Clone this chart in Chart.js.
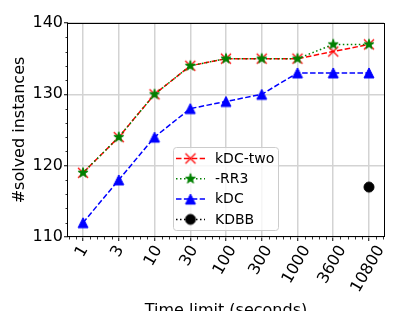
<!DOCTYPE html>
<html lang="en">
<head>
<meta charset="UTF-8">
<title>Solved instances vs time limit</title>
<script src="https://cdn.jsdelivr.net/npm/chart.js"></script>
<style>
  html, body { margin: 0; padding: 0; background: #fff; }
  #wrap { width: 415px; height: 311px; }
</style>
</head>
<body>
<div id="wrap"><canvas id="chart" width="415" height="311"></canvas></div>
<script>
// data
const timeLabels = ["1", "3", "10", "30", "100", "300", "1000", "3600", "10800"];
const kdcTwo = [119, 124, 130, 134, 135, 135, 135, 136, 137];
const rr3 = [119, 124, 130, 134, 135, 135, 135, 137, 137];
const kdc = [112, 118, 124, 128, 129, 130, 133, 133, 133];
const kdbb = [null, null, null, null, null, null, null, null, 117];
const yTicks = [110, 120, 130, 140];

// matplotlib-like markers as small canvases
function makeMarker(kind, color) {
  const c = document.createElement("canvas");
  c.width = 14;
  c.height = 14;
  const g = c.getContext("2d");
  g.translate(7, 7);
  g.fillStyle = color;
  g.strokeStyle = color;
  g.lineWidth = 1;
  g.beginPath();
  if (kind === "star") {
    const R = 5.3, r = R * 0.382;
    for (let k = 0; k < 10; k++) {
      const a = -Math.PI / 2 + k * Math.PI / 5;
      const rad = k % 2 === 0 ? R : r;
      g.lineTo(Math.cos(a) * rad, Math.sin(a) * rad);
    }
    g.closePath();
    g.fill();
    g.stroke();
  } else if (kind === "tri") {
    g.moveTo(0, -5);
    g.lineTo(-5, 5);
    g.lineTo(5, 5);
    g.closePath();
    g.fill();
    g.stroke();
  } else if (kind === "circle") {
    g.arc(0, 0, 5, 0, Math.PI * 2);
    g.fill();
    g.stroke();
  } else {
    g.lineWidth = 1.3;
    g.moveTo(-5, -5); g.lineTo(5, 5);
    g.moveTo(-5, 5); g.lineTo(5, -5);
    g.stroke();
  }
  return c;
}

function toPoints(arr) {
  const pts = [];
  arr.forEach((v, i) => { if (v !== null) pts.push({ x: i, y: v }); });
  return pts;
}

const FONT = "'DejaVu Sans'";
Chart.defaults.color = "#000";
Chart.defaults.font.family = FONT;

const decor = {
  id: "decor",
  afterDatasetsDraw(chart) {
    const ctx = chart.ctx;
    const a = chart.chartArea;
    // frame (spines)
    ctx.save();
    ctx.strokeStyle = "#000";
    ctx.lineWidth = 1;
    ctx.strokeRect(Math.round(a.left) - 0.5, Math.round(a.top) + 0.5,
      Math.round(a.right - a.left) + 1, Math.round(a.bottom - a.top) - 1);
    ctx.restore();
  },
  afterDraw(chart) {
    const ctx = chart.ctx;
    const a = chart.chartArea;
    const xs = chart.scales.x, ys = chart.scales.y;
    ctx.save();
    // minor ticks
    ctx.strokeStyle = "#000";
    ctx.lineWidth = 0.8;
    ctx.beginPath();
    for (let v = 110; v <= 140; v += 2) {
      if (v % 10 === 0) continue;
      const py = Math.round(ys.getPixelForValue(v)) + 0.5;
      ctx.moveTo(a.left, py); ctx.lineTo(a.left - 2.5, py);
    }
    for (let k = -2; k <= 42; k++) {
      if (k % 5 === 0) continue;
      const v = k / 5;
      if (v < xs.min || v > xs.max) continue;
      const px = Math.round(xs.getPixelForValue(v)) + 0.5;
      ctx.moveTo(px, a.bottom); ctx.lineTo(px, a.bottom + 2.5);
    }
    ctx.stroke();

    // rotated x tick labels, centred under the ticks
    ctx.fillStyle = "#000";
    ctx.font = "16px " + FONT;
    ctx.textAlign = "center";
    ctx.textBaseline = "middle";
    const th = Math.PI / 3;
    const top = a.bottom + 5.5;
    timeLabels.forEach((t, i) => {
      const px = xs.getPixelForValue(i);
      const w = ctx.measureText(t).width;
      const H = w * Math.sin(th) + 16 * 1.17 * Math.cos(th);
      ctx.save();
      ctx.translate(px - 1, top + H / 2);
      ctx.rotate(-th);
      ctx.fillText(t, 0, 0);
      ctx.restore();
    });

    // legend box
    const bx = 173.5, by = 147.5, bw = 105, bh = 83;
    ctx.beginPath();
    ctx.roundRect(bx, by, bw, bh, 3);
    ctx.fillStyle = "rgba(255,255,255,0.8)";
    ctx.fill();
    ctx.strokeStyle = "#cccccc";
    ctx.lineWidth = 1;
    ctx.stroke();
    ctx.font = "14px " + FONT;
    ctx.textAlign = "left";
    chart.data.datasets.forEach((ds, k) => {
      const ry = 158.5 + k * 20.3;
      ctx.save();
      ctx.strokeStyle = ds.borderColor;
      ctx.lineWidth = ds.borderWidth;
      ctx.setLineDash(ds.borderDash);
      ctx.beginPath();
      ctx.moveTo(176, ry); ctx.lineTo(205, ry);
      ctx.stroke();
      ctx.restore();
      const m = ds.pointStyle;
      ctx.drawImage(m, 190.5 - m.width / 2, ry - m.height / 2);
      ctx.fillStyle = "#000";
      ctx.fillText(ds.label, 215, ry + 0.5);
    });
    ctx.restore();
  }
};

const lineDash = [5.5, 2.4];
const dotDash = [1.5, 2.5];

new Chart(document.getElementById("chart"), {
  type: "line",
  data: {
    datasets: [
      { label: "kDC-two", data: toPoints(kdcTwo), borderColor: "red", borderWidth: 1.5,
        borderDash: lineDash, pointStyle: makeMarker("x", "red"), order: 3 },
      { label: "-RR3", data: toPoints(rr3), borderColor: "green", borderWidth: 1.5,
        borderDash: dotDash, pointStyle: makeMarker("star", "green"), order: 2 },
      { label: "kDC", data: toPoints(kdc), borderColor: "blue", borderWidth: 1.5,
        borderDash: lineDash, pointStyle: makeMarker("tri", "blue"), order: 1 },
      { label: "KDBB", data: toPoints(kdbb), borderColor: "black", borderWidth: 1.5,
        borderDash: dotDash, pointStyle: makeMarker("circle", "black"), order: 0 }
    ]
  },
  options: {
    responsive: false,
    animation: false,
    events: [],
    layout: { padding: { left: 0, right: 31, top: 23, bottom: 0 } },
    elements: { line: { tension: 0, fill: false }, point: { radius: 5 } },
    plugins: { legend: { display: false }, tooltip: { enabled: false } },
    scales: {
      x: {
        type: "linear",
        min: -0.42,
        max: 8.42,
        afterBuildTicks: (s) => { s.ticks = timeLabels.map((_, i) => ({ value: i })); },
        afterFit: (s) => { s.height = 74; },
        ticks: { display: false },
        grid: { color: "#d3d3d3", lineWidth: 1.5, tickColor: "#000", tickWidth: 1, tickLength: 4 },
        border: { display: false },
        title: { display: true, text: "Time limit (seconds)", font: { size: 16 },
                 padding: { top: 0, bottom: -9 } }
      },
      y: {
        min: 110,
        max: 140,
        afterBuildTicks: (s) => { s.ticks = yTicks.map((v) => ({ value: v })); },
        afterFit: (s) => { s.width = 68; },
        ticks: { font: { size: 16 }, padding: 1 },
        grid: { color: "#d3d3d3", lineWidth: 1.5, tickColor: "#000", tickWidth: 1, tickLength: 4 },
        border: { display: false },
        title: { display: true, text: "#solved instances", font: { size: 16 },
                 padding: { top: 10, bottom: 0 } }
      }
    }
  },
  plugins: [decor]
});
</script>
</body>
</html>
